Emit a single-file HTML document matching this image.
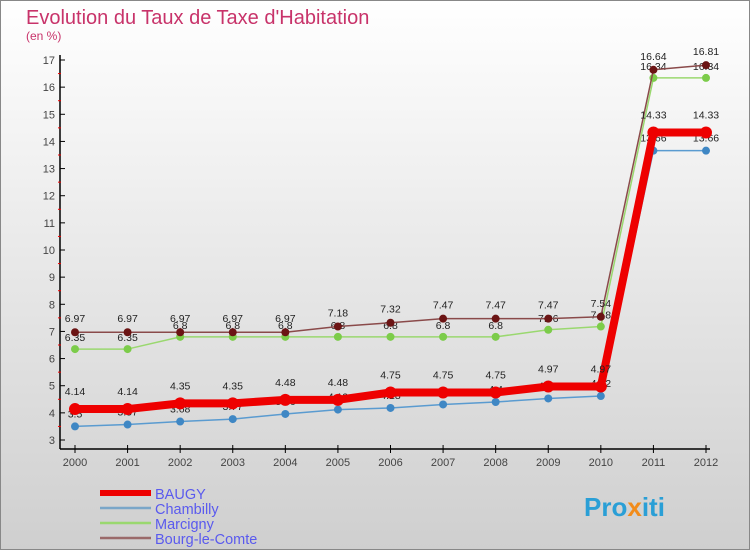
<!DOCTYPE html>
<html><head><meta charset="utf-8"><style>
html,body{margin:0;padding:0;}
body{width:750px;height:550px;overflow:hidden;font-family:"Liberation Sans",sans-serif;}
</style></head><body>
<svg id="chart" width="750" height="550" xmlns="http://www.w3.org/2000/svg">
<defs>
<linearGradient id="bg" x1="0" y1="0" x2="0" y2="1">
<stop offset="0" stop-color="#ffffff"/><stop offset="1" stop-color="#cfcfcf"/>
</linearGradient>
</defs>
<rect x="0.5" y="0.5" width="749" height="549" fill="url(#bg)" stroke="#888"/>
<text x="26" y="24" font-size="20" fill="#c8336a">Evolution du Taux de Taxe d'Habitation</text>
<text x="26" y="40" font-size="12" fill="#c8336a">(en %)</text>
<g id="axes"></g>
<g id="series"></g>
<g id="legend"></g>
<text x="584" y="516" font-size="26" font-weight="bold" fill="#2a9fd6">Pro<tspan fill="#f28c1a">x</tspan>iti</text>
</svg>
<script>
const years = [2000,2001,2002,2003,2004,2005,2006,2007,2008,2009,2010,2011,2012];
const yTicks = [3,4,5,6,7,8,9,10,11,12,13,14,15,16,17];
const baugy = [4.14,4.14,4.35,4.35,4.48,4.48,4.75,4.75,4.75,4.97,4.97,14.33,14.33];
const chambilly = [3.5,3.57,3.68,3.77,3.96,4.12,4.18,4.31,4.4,4.53,4.62,13.66,13.66];
const marcigny = [6.35,6.35,6.8,6.8,6.8,6.8,6.8,6.8,6.8,7.06,7.18,16.34,16.34];
const bourg = [6.97,6.97,6.97,6.97,6.97,7.18,7.32,7.47,7.47,7.47,7.54,16.64,16.81];
const seriesNames = ["BAUGY","Chambilly","Marcigny","Bourg-le-Comte"];

const NS="http://www.w3.org/2000/svg";
function x(i){return 75+i*(706-75)/(years.length-1);}
function y(v){return 440-(v-3)*(380/14);}
function mk(tag,attrs,parent){const e=document.createElementNS(NS,tag);for(const k in attrs)e.setAttribute(k,attrs[k]);parent.appendChild(e);return e;}
const axes=document.getElementById('axes');
const ser=document.getElementById('series');
const leg=document.getElementById('legend');

let a=mk('line',{x1:60,y1:55,x2:60,y2:449,stroke:'#000','stroke-width':1.5},axes);


a=mk('line',{x1:60,y1:449,x2:710,y2:449,stroke:'#000','stroke-width':1.5},axes);


yTicks.forEach(t=>{
  mk('line',{x1:60,y1:y(t),x2:65,y2:y(t),stroke:'#000'},axes);
  if(t<17) mk('line',{x1:58,y1:y(t+0.5),x2:61,y2:y(t+0.5),stroke:'#e00'},axes);
  const tx=mk('text',{x:55,y:y(t)+4,'font-size':11,'text-anchor':'end',fill:'#444'},axes);
  tx.textContent=t;
  
  
});
years.forEach((yr,i)=>{
  mk('line',{x1:x(i),y1:445,x2:x(i),y2:453,stroke:'#000'},axes);
  const tx=mk('text',{x:x(i),y:466,'font-size':11,'text-anchor':'middle',fill:'#444'},axes);
  tx.textContent=yr;
  
  
});

const defs=[
 {d:chambilly,c:'#5a9bd0',w:1.5,r:4,mc:'#3f87c4',name:'chambilly',dy:-9},
 {d:marcigny,c:'#9ad86f',w:1.5,r:4,mc:'#7ccc4a',name:'marcigny',dy:-8},
 {d:bourg,c:'#8a4a4a',w:1.5,r:4,mc:'#6b1414',name:'bourg-le-comte',dy:-10},
 {d:baugy,c:'#ee0000',w:8,r:6,mc:'#ee0000',name:'baugy',dy:-14}
];
defs.forEach(s=>{
  const g=mk('g',{},ser);
  
  
  const pts=s.d.map((v,i)=>x(i)+','+y(v)).join(' ');
  const pl=mk('polyline',{points:pts,fill:'none',stroke:s.c,'stroke-width':s.w,'stroke-linejoin':'round'},g);
  
  
  s.d.forEach((v,i)=>{
    const c=mk('circle',{cx:x(i),cy:y(v),r:s.r,fill:s.mc},g);
    
    
    const t=mk('text',{x:x(i),y:y(v)+s.dy,'font-size':10.5,'text-anchor':'middle',fill:'#222'},g);
    t.textContent=v;
    
    
  });
});

const legCols=['#ee0000','#7aa6c8','#9ad86f','#9a6a6a'];
const legW=[6,2.5,2.5,2.5];
seriesNames.forEach((n,i)=>{
  const yy=493+i*15;
  const g=mk('g',{},leg);
  
  
  mk('line',{x1:100,y1:yy,x2:151,y2:yy,stroke:legCols[i],'stroke-width':legW[i]},g);
  const t=mk('text',{x:155,y:yy+6,'font-size':14.5,fill:'#5a5aee'},g);
  t.textContent=n;
});
</script>
</body></html>
